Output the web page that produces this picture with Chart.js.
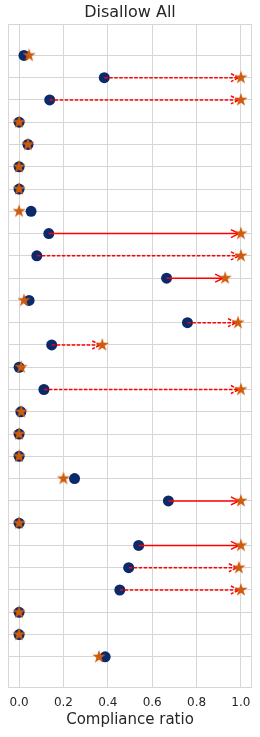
<!DOCTYPE html>
<html>
<head>
<meta charset="utf-8">
<script src="https://cdn.jsdelivr.net/npm/chart.js@4/dist/chart.umd.min.js"></script>
<style>
  html, body { margin: 0; padding: 0; background: #fff; }
  canvas { display: block; }
</style>
</head>
<body>
<canvas id="grafic" width="260" height="737"></canvas>
<script>

/* ============================================================
   DADES
============================================================ */

const titol = "Disallow All";
const titolEix = "Compliance ratio";

const xTicks = [0, 0.2, 0.4, 0.6, 0.8, 1.0];

// valor inicial (punt blau) i final (estrella) per fila, de dalt a baix
const abans = [0.022, 0.384, 0.138, 0, 0.04, 0, 0, 0.054, 0.134, 0.08, 0.665, 0.045, 0.759, 0.147,
               0, 0.112, 0.008, 0, 0, 0.25, 0.673, 0, 0.539, 0.494, 0.454, 0, 0, 0.388];
const despres = [0.045, 1, 1, 0, 0.04, 0, 0, 0, 1, 1, 0.929, 0.022, 0.987, 0.375,
                 0.009, 1, 0.01, 0, 0, 0.2, 1, 0, 1, 0.991, 1, 0, 0, 0.36];

// tipus de canvi: "A" fletxa continua, "B" fletxa discontinua, "" sense fletxa
const tipus = ["", "B", "B", "", "", "", "", "", "A", "B", "A", "", "B", "B",
               "", "B", "", "", "", "", "A", "", "A", "B", "B", "", "", ""];


/* ============================================================
   ESTILS
============================================================ */

const BLAU = "#0b2a6b";
const TARONJA = "#cf5b0c";
const VERMELL = "#ff0000";
const GRIS = "#d6d6d6";
const TEXT = "#262626";
const FONT = "'DejaVu Sans', sans-serif";

function ferEstrella(r, color){
    const c = document.createElement("canvas");
    const mida = Math.ceil(r * 2 + 2);
    c.width = mida;
    c.height = mida;
    const ctx = c.getContext("2d");
    const cx = mida / 2, cy = mida / 2, ri = r * 0.382;
    ctx.beginPath();
    for(let k = 0; k < 10; k++){
        const rad = k % 2 === 0 ? r : ri;
        const a = -Math.PI / 2 + k * Math.PI / 5;
        const px = cx + rad * Math.cos(a), py = cy + rad * Math.sin(a);
        if(k === 0) ctx.moveTo(px, py); else ctx.lineTo(px, py);
    }
    ctx.closePath();
    ctx.fillStyle = color;
    ctx.fill();
    return c;
}

const estrella = ferEstrella(7, TARONJA);


/* ============================================================
   PLUGINS
============================================================ */

// fletxes vermelles entre punt i estrella
const fletxes = {
    id: "fletxes",
    afterDatasetDraw(chart, args){
        if(args.index !== 0) return;
        const x = chart.scales.x, y = chart.scales.y, ctx = chart.ctx;
        ctx.save();
        ctx.strokeStyle = VERMELL;
        ctx.lineWidth = 1.5;
        tipus.forEach((t, i) => {
            if(!t) return;
            const x1 = x.getPixelForValue(abans[i]);
            const x2 = x.getPixelForValue(despres[i]);
            const py = y.getPixelForValue(i);
            ctx.setLineDash(t === "B" ? [3.5, 1.5] : []);
            ctx.beginPath();
            ctx.moveTo(x1, py);
            ctx.lineTo(x2 - 1, py);
            ctx.stroke();
            ctx.beginPath();
            ctx.moveTo(x2 - 10, py - 4);
            ctx.lineTo(x2 - 2, py);
            ctx.lineTo(x2 - 10, py + 4);
            ctx.stroke();
        });
        ctx.restore();
    }
};

// marc de l'àrea del gràfic
const marc = {
    id: "marc",
    afterDraw(chart){
        const a = chart.chartArea, ctx = chart.ctx;
        ctx.save();
        ctx.strokeStyle = GRIS;
        ctx.lineWidth = 1;
        ctx.strokeRect(Math.round(a.left) + 0.5, Math.round(a.top) + 0.5,
                       Math.round(a.right - a.left) - 1, Math.round(a.bottom - a.top) - 1);
        ctx.restore();
    }
};


/* ============================================================
   GRÀFIC
============================================================ */

new Chart(document.getElementById("grafic"), {
    type: "scatter",
    data: {
        datasets: [{
            label: "abans",
            data: abans.map((v, i) => ({x: v, y: i})),
            backgroundColor: BLAU,
            borderColor: BLAU,
            pointRadius: 5.5,
            pointHoverRadius: 5.5,
            borderWidth: 0,
            order: 2
        }, {
            label: "després",
            data: despres.map((v, i) => ({x: v, y: i})),
            pointStyle: estrella,
            pointRadius: 7,
            order: 1
        }]
    },
    plugins: [fletxes, marc],
    options: {
        responsive: false,
        animation: false,
        events: [],
        layout: {
            padding: {left: 7, right: 7, top: 0, bottom: 0}
        },
        plugins: {
            legend: {display: false},
            tooltip: {enabled: false},
            title: {
                display: true,
                text: titol,
                color: TEXT,
                font: {family: FONT, size: 16, weight: "normal"},
                padding: {top: 3, bottom: 2}
            }
        },
        scales: {
            x: {
                type: "linear",
                min: -0.05,
                max: 1.05,
                afterBuildTicks: (s) => { s.ticks = xTicks.map(v => ({value: v})); },
                afterFit: (s) => { s.height = 49; },
                grid: {color: GRIS, drawTicks: false},
                border: {display: false},
                ticks: {
                    color: TEXT,
                    font: {family: FONT, size: 12},
                    padding: 8,
                    callback: (v) => v.toFixed(1)
                },
                title: {
                    display: true,
                    text: titolEix,
                    color: TEXT,
                    font: {family: FONT, size: 15},
                    padding: {top: 0, bottom: 8}
                }
            },
            y: {
                type: "linear",
                reverse: true,
                min: -1.4,
                max: 28.4,
                afterBuildTicks: (s) => { s.ticks = abans.map((v, i) => ({value: i})); },
                grid: {color: GRIS, drawTicks: false},
                border: {display: false},
                ticks: {display: false}
            }
        }
    }
});

</script>
</body>
</html>
